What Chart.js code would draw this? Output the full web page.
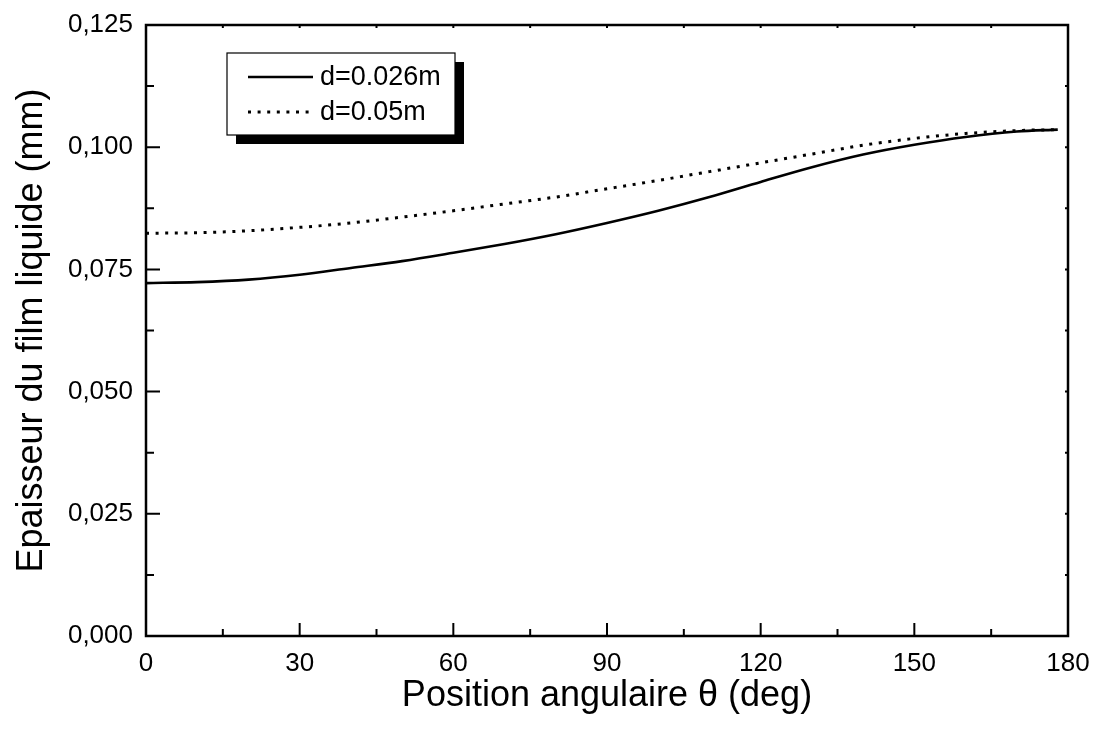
<!DOCTYPE html>
<html>
<head>
<meta charset="utf-8">
<script src="https://cdn.jsdelivr.net/npm/chart.js@4/dist/chart.umd.min.js"></script>
<style>
  html, body { margin: 0; padding: 0; background: #fff; }
  #wrap { width: 1096px; height: 731px; }
</style>
</head>
<body>
<div id="wrap"><canvas id="filmChart"></canvas></div>
<script>
// angles (deg) and film thickness (mm)
const angles = [0, 10, 20, 30, 40, 50, 60, 70, 80, 90, 100, 110, 120, 130, 140, 150, 160, 170, 178];
const thickSmall = [0.0722, 0.0724, 0.0729, 0.0739, 0.0753, 0.0767, 0.0784, 0.0802, 0.0822, 0.0845, 0.0870, 0.0898, 0.0929, 0.0959, 0.0985, 0.1005, 0.1021, 0.1032, 0.1036];
const thickLarge = [0.0824, 0.0825, 0.0829, 0.0836, 0.0845, 0.0857, 0.0870, 0.0884, 0.0898, 0.0915, 0.0932, 0.0950, 0.0968, 0.0986, 0.1004, 0.1018, 0.1028, 0.1034, 0.1036];
const seriesLabels = ["d=0.026m", "d=0.05m"];

const xMajor = [0, 30, 60, 90, 120, 150, 180];
const xMinor = [15, 45, 75, 105, 135, 165];
const yMajor = [0, 0.025, 0.05, 0.075, 0.1, 0.125];
const yMinor = [0.0125, 0.0375, 0.0625, 0.0875, 0.1125];

const toPoints = (ys) => angles.map((a, i) => ({ x: a, y: ys[i] }));

// cadre + graduations vers l'intérieur + légende avec ombre
const framePlugin = {
  id: "frame",
  afterDatasetsDraw(chart) {
    const ctx = chart.ctx;
    const area = chart.chartArea;
    const xs = chart.scales.x;
    const ys = chart.scales.y;
    ctx.save();
    ctx.strokeStyle = "#000";
    ctx.lineWidth = 2;
    ctx.beginPath();
    const tick = (x1, y1, x2, y2) => { ctx.moveTo(x1, y1); ctx.lineTo(x2, y2); };
    xMajor.forEach((v) => {
      const px = xs.getPixelForValue(v);
      tick(px, area.bottom, px, area.bottom - 13);
      tick(px, area.top, px, area.top + 3);
    });
    xMinor.forEach((v) => {
      const px = xs.getPixelForValue(v);
      tick(px, area.bottom, px, area.bottom - 7);
      tick(px, area.top, px, area.top + 3);
    });
    yMajor.forEach((v) => {
      const py = ys.getPixelForValue(v);
      tick(area.left, py, area.left + 14, py);
      tick(area.right, py, area.right - 3, py);
    });
    yMinor.forEach((v) => {
      const py = ys.getPixelForValue(v);
      tick(area.left, py, area.left + 8, py);
      tick(area.right, py, area.right - 3, py);
    });
    ctx.stroke();

    ctx.lineWidth = 2.5;
    ctx.strokeRect(area.left, area.top, area.right - area.left, area.bottom - area.top);

    // légende
    const lx = area.left + 81, ly = area.top + 28, lw = 228, lh = 82;
    ctx.fillStyle = "#000";
    ctx.fillRect(lx + 9, ly + 9, lw, lh);
    ctx.fillStyle = "#fff";
    ctx.fillRect(lx, ly, lw, lh);
    ctx.lineWidth = 1.2;
    ctx.strokeRect(lx, ly, lw, lh);
    ctx.font = "27px 'Liberation Sans', Arial, sans-serif";
    ctx.textBaseline = "middle";
    ctx.fillStyle = "#000";
    chart.data.datasets.forEach((ds, i) => {
      const yy = ly + 24 + i * 35;
      ctx.save();
      ctx.lineWidth = ds.borderWidth;
      ctx.setLineDash(ds.borderDash || []);
      ctx.beginPath();
      ctx.moveTo(lx + 21, yy);
      ctx.lineTo(lx + 86, yy);
      ctx.stroke();
      ctx.restore();
      ctx.fillText(ds.label, lx + 93, yy + 1);
    });
    ctx.restore();
  },
};

const ctx = document.querySelector("#filmChart").getContext("2d");
new Chart(ctx, {
  type: "line",
  data: {
    datasets: [
      {
        label: seriesLabels[0],
        data: toPoints(thickSmall),
        borderColor: "#000",
        borderWidth: 2.6,
        pointRadius: 0,
        cubicInterpolationMode: "monotone",
        fill: false,
      },
      {
        label: seriesLabels[1],
        data: toPoints(thickLarge),
        borderColor: "#000",
        borderWidth: 3,
        borderDash: [3, 6.6],
        pointRadius: 0,
        cubicInterpolationMode: "monotone",
        fill: false,
      },
    ],
  },
  options: {
    responsive: true,
    maintainAspectRatio: false,
    animation: false,
    layout: { padding: { top: 25, right: 28, left: 0, bottom: 0 } },
    plugins: {
      legend: { display: false },
      tooltip: { enabled: false },
    },
    scales: {
      x: {
        type: "linear",
        min: 0,
        max: 180,
        afterFit: (scale) => {
          scale.height = 95;
          scale.paddingLeft = 0;
          scale.paddingRight = 0;
        },
        afterBuildTicks: (scale) => { scale.ticks = xMajor.map((v) => ({ value: v })); },
        grid: { display: false, drawTicks: false },
        border: { display: false },
        ticks: {
          color: "#000",
          padding: 12,
          maxRotation: 0,
          font: { family: "'Liberation Sans', Arial, sans-serif", size: 26 },
        },
        title: {
          display: true,
          text: "Position angulaire θ (deg)",
          color: "#000",
          padding: { top: 0, bottom: 13 },
          font: { family: "'Liberation Sans', Arial, sans-serif", size: 36 },
        },
      },
      y: {
        type: "linear",
        min: 0,
        max: 0.125,
        afterFit: (scale) => {
          scale.width = 146;
          scale.paddingTop = 0;
          scale.paddingBottom = 0;
        },
        afterBuildTicks: (scale) => { scale.ticks = yMajor.map((v) => ({ value: v })); },
        grid: { display: false, drawTicks: false },
        border: { display: false },
        ticks: {
          color: "#000",
          padding: 13,
          font: { family: "'Liberation Sans', Arial, sans-serif", size: 26 },
          callback: (v) => Number(v).toFixed(3).replace(".", ","),
        },
        title: {
          display: true,
          text: "Epaisseur du film liquide (mm)",
          color: "#000",
          padding: { top: 10, bottom: 0 },
          font: { family: "'Liberation Sans', Arial, sans-serif", size: 36 },
        },
      },
    },
  },
  plugins: [framePlugin],
});
</script>
</body>
</html>
